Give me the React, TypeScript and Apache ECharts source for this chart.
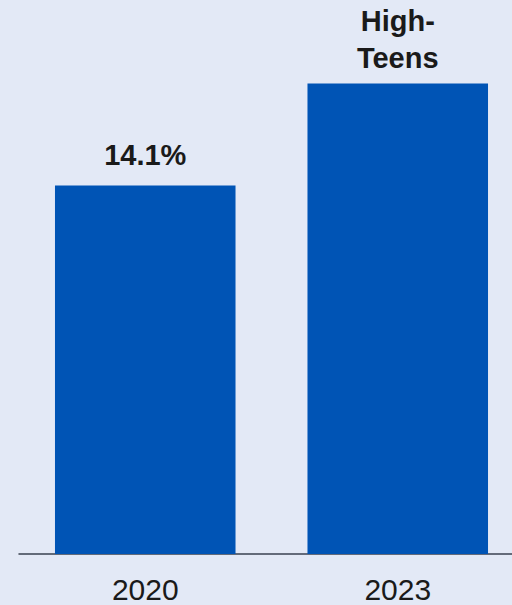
import React, { useEffect, useRef } from "react";
import * as echarts from "echarts";

const categories = ["2020", "2023"];
const values = [14.1, 18];
const barLabels = ["14.1%", "High-\nTeens"];

const labelDistances = [12, 7];

export default function App() {
  const ref = useRef<HTMLDivElement>(null);
  useEffect(() => {
    document.body.style.margin = "0";
    document.body.style.overflow = "hidden";
    const chart = echarts.init(ref.current!, null, { renderer: "svg" });
    chart.setOption({
      animation: false,
      backgroundColor: "#E3E9F6",
      grid: { left: 19, right: 0, top: 0, bottom: 51, containLabel: false },
      xAxis: {
        type: "category",
        data: categories,
        axisLine: { show: true, lineStyle: { color: "#3A4150", width: 1.5 } },
        axisTick: { show: false },
        axisLabel: {
          color: "#1a1a1a",
          fontSize: 30,
          lineHeight: 26,
          fontFamily: "Liberation Sans, Arial, sans-serif",
          margin: 22,
        },
      },
      yAxis: {
        type: "value",
        min: 0,
        max: 21.2,
        show: false,
        splitLine: { show: false },
      },
      series: [
        {
          type: "bar",
          data: values.map((v, i) => ({
            value: v,
            label: { formatter: barLabels[i], distance: labelDistances[i] },
          })),
          barWidth: "71.5%",
          itemStyle: { color: "#0054B5" },
          label: {
            show: true,
            position: "top",
            color: "#1a1a1a",
            fontSize: 29,
            fontWeight: "bold",
            lineHeight: 37,
            fontFamily: "Liberation Sans, Arial, sans-serif",
          },
        },
      ],
    });
    return () => chart.dispose();
  }, []);
  return (
    <div style={{ position: "absolute", left: 0, top: 0, width: 512, height: 605, overflow: "hidden" }}>
      <div
        ref={ref}
        style={{ position: "absolute", left: 0, top: 0, width: 524, height: 605 }}
      />
    </div>
  );
}
